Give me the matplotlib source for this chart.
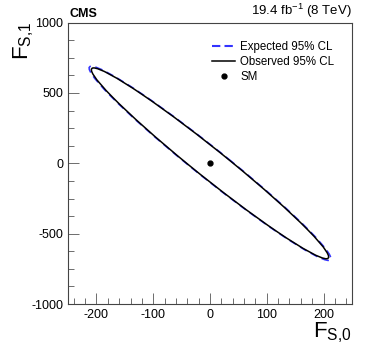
import numpy as np
import matplotlib.pyplot as plt
from matplotlib.patches import Ellipse
from matplotlib.lines import Line2D
from matplotlib.ticker import MultipleLocator

plt.rcParams['font.family'] = ['Liberation Sans', 'DejaVu Sans']
plt.rcParams['mathtext.fontset'] = 'custom'
plt.rcParams['mathtext.rm'] = 'Liberation Sans'
plt.rcParams['mathtext.it'] = 'Liberation Sans'
plt.rcParams['axes.unicode_minus'] = False

# 95% CL contours:
# max |F_S,0|, max |F_S,1|, F_S,1 where the contour crosses F_S,0 = 0
obs_xmax, obs_ymax, obs_y0 = 209., 678., 133.
exp_xmax, exp_ymax, exp_y0 = 213., 690., 136.
sm_point = (0., 0.)
lumi_text = '19.4 fb$^{-1}$ (8 TeV)'


def contour(xmax, ymax, y0, **kw):
    # shape matrix of ellipse x = A cos t, y = -B cos(t + d), B sin d = y0
    d = np.arcsin(y0 / ymax)
    S = np.array([[xmax**2, -xmax*ymax*np.cos(d)],
                  [-xmax*ymax*np.cos(d), ymax**2]])
    w, v = np.linalg.eigh(S)
    ang = np.degrees(np.arctan2(v[1, 1], v[0, 1]))
    return Ellipse((0, 0), 2*np.sqrt(w[1]), 2*np.sqrt(w[0]), angle=ang,
                   fill=False, **kw)


fig = plt.figure(figsize=(3.74, 3.59), dpi=100)
ax = fig.add_axes([0.182, 0.153, 0.759, 0.784])

ax.add_patch(contour(exp_xmax, exp_ymax, exp_y0, ec='#3333ff', lw=1.1, ls=(0, (5, 3))))
ax.add_patch(contour(obs_xmax, obs_ymax, obs_y0, ec='black', lw=1.1))
ax.plot(*sm_point, 'o', color='black', ms=3.5)

ax.set_xlim(-250, 250)
ax.set_ylim(-1000, 1000)
ax.xaxis.set_major_locator(MultipleLocator(100))
ax.xaxis.set_minor_locator(MultipleLocator(20))
ax.yaxis.set_major_locator(MultipleLocator(500))
ax.yaxis.set_minor_locator(MultipleLocator(125))
ax.tick_params(which='both', direction='in', top=False, right=False,
               labelsize=9, width=0.6, color='#555555')
ax.tick_params(which='major', length=8)
ax.tick_params(which='minor', length=4)
for s in ax.spines.values():
    s.set_linewidth(0.8)
    s.set_color('#444444')

fig.text(0.941, 0.04, '$\\mathregular{F_{S{,}0}}$', ha='right', va='bottom', fontsize=16)
fig.text(0.03, 0.94, '$\\mathregular{F_{S{,}1}}$', ha='left', va='top', fontsize=16, rotation=90)
fig.text(0.185, 0.945, 'CMS', ha='left', va='bottom', fontsize=9, fontweight='bold')
fig.text(0.941, 0.945, lumi_text, ha='right', va='bottom', fontsize=9.5)

handles = [Line2D([], [], color='#3333ff', lw=1.5, ls=(0, (4, 2))),
           Line2D([], [], color='black', lw=1.1),
           Line2D([], [], color='black', marker='o', ms=3.5, ls='none')]
fig.legend(handles, ['Expected 95% CL', 'Observed 95% CL', 'SM'],
           loc='upper left', bbox_to_anchor=(0.567, 0.885), frameon=False,
           borderpad=0, borderaxespad=0,
           fontsize=8.3, handlelength=2.0, handletextpad=0.45, labelspacing=0.25)

fig.savefig('out.png', dpi=100)
